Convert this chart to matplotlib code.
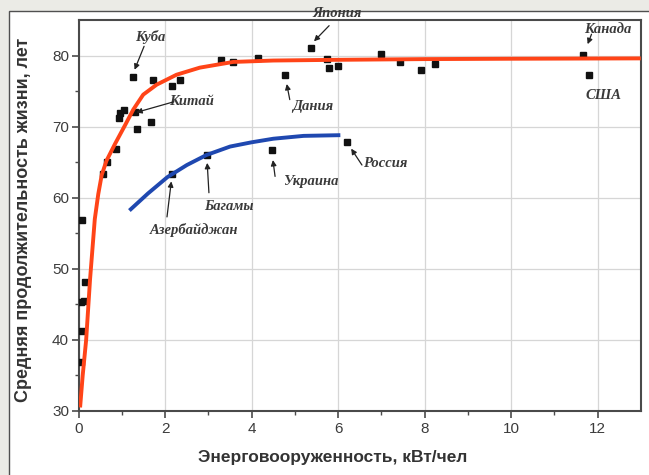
import numpy as np
import matplotlib.pyplot as plt
from matplotlib.patches import Rectangle

# scattered countries (energy per capita, life expectancy)
px = [0.05, 0.07, 0.06, 0.12, 0.14, 0.07, 0.56, 0.65, 0.86, 0.92, 0.95, 1.05,
      1.30, 1.25, 1.34, 1.68, 1.71, 2.15, 2.35, 2.16, 2.97, 3.30, 3.57, 4.15,
      4.78, 5.37, 5.74, 5.78, 6.00, 4.46, 6.20, 7.00, 7.44, 7.92, 8.25, 11.67, 11.80]
py = [36.9, 41.3, 45.3, 45.5, 48.1, 56.8, 63.4, 65.0, 66.9, 71.2, 71.9, 72.3,
      72.0, 77.0, 69.6, 70.7, 76.5, 75.7, 76.5, 63.4, 66.0, 79.4, 79.1, 79.7,
      77.2, 81.1, 79.5, 78.2, 78.5, 66.7, 67.8, 80.2, 79.1, 78.0, 78.8, 80.1, 77.3]

# red fitted curve
rx = [0.03, 0.09, 0.17, 0.26, 0.37, 0.45, 0.53, 0.64, 0.84, 1.07, 1.26, 1.49,
      1.8, 2.26, 2.8, 3.57, 4.5, 6, 8, 10, 13]
ry = [30.5, 35.0, 40.0, 48.5, 57.0, 60.5, 63.2, 65.2, 67.6, 70.2, 72.4, 74.5,
      75.9, 77.3, 78.3, 79.1, 79.3, 79.4, 79.5, 79.55, 79.6]

# blue curve (post-soviet etc.)
bx = [1.17, 1.6, 2.05, 2.5, 2.95, 3.5, 4.0, 4.5, 5.2, 6.05]
by = [58.2, 60.6, 62.9, 64.6, 66.0, 67.2, 67.8, 68.3, 68.7, 68.8]

# labels: text, text pos, arrow tail, arrow head (None = no arrow)
notes = [
    ("Куба", (1.65, 82.6), (1.51, 81.3), (1.29, 78.0)),
    ("Китай", (2.6, 73.5), (2.2, 73.5), (1.33, 72.0)),
    ("Япония", (5.97, 85.9), (5.79, 84.2), (5.44, 82.0)),
    ("Канада", (12.23, 83.7), (11.86, 83.0), (11.77, 81.6)),
    ("США", (12.14, 74.4), None, None),
    ("Дания", (5.42, 72.9), (4.88, 73.8), (4.81, 76.0)),
    ("Украина", (5.37, 62.3), (4.54, 63.0), (4.49, 65.3)),
    ("Россия", (7.08, 64.8), (6.55, 64.6), (6.30, 66.9)),
    ("Багамы", (3.47, 58.7), (3.01, 60.7), (2.97, 64.9)),
    ("Азербайджан", (2.66, 55.5), (2.04, 57.3), (2.14, 62.3)),
]

plt.rcParams['font.family'] = ['Liberation Sans', 'DejaVu Sans']

fig = plt.figure(figsize=(6.49, 4.75), dpi=100)
fig.patch.set_facecolor('#ebebe6')
fig.patches.append(Rectangle((9/649, -0.1), 1.0, (475-11)/475 + 0.1,
                             transform=fig.transFigure, facecolor='white',
                             edgecolor='#505050', lw=1.0, zorder=-5))

ax = fig.add_axes([78.8/649, 1-411/475, 562/649, 391/475])
ax.set_zorder(2)
ax.set_facecolor('white')

ax.plot(px, py, 's', color='#111111', ms=4.8, zorder=3)
ax.plot(rx, ry, '-', color='#ff4418', lw=2.8, zorder=4, solid_capstyle='butt')
ax.plot(bx, by, '-', color='#1f48b0', lw=2.8, zorder=4, solid_capstyle='butt')

for t, tp, a0, a1 in notes:
    ax.text(tp[0], tp[1], t, ha='center', va='center', fontsize=10.5,
            family='Liberation Serif', style='italic', weight='bold',
            color='#3a3a3a', clip_on=False, zorder=5)
    if a0 is not None:
        ax.annotate('', xy=a1, xytext=a0,
                    arrowprops=dict(arrowstyle='-|>', color='#222222', lw=0.9,
                                    mutation_scale=8, shrinkA=0, shrinkB=0),
                    annotation_clip=False, zorder=5)

ax.set_xlim(0, 13)
ax.set_ylim(30, 85)
ax.set_xticks([0, 2, 4, 6, 8, 10, 12])
ax.set_xticks([1, 3, 5, 7, 9, 11], minor=True)
ax.set_yticks([30, 40, 50, 60, 70, 80])
ax.set_yticks([35, 45, 55, 65, 75], minor=True)
ax.grid(True, which='major', color='#d6d6d6', lw=0.9)
ax.set_axisbelow(True)

for s in ax.spines.values():
    s.set_color('#4a4a4a')
    s.set_linewidth(1.5)
ax.tick_params(which='major', direction='out', length=5, width=1.2,
               color='#4a4a4a', labelsize=11, labelcolor='#3c3c3c', pad=3)
ax.tick_params(axis='y', which='major', pad=2)
ax.tick_params(which='minor', direction='out', length=3, width=1.0, color='#4a4a4a')

ax.set_xlabel('Энерговооруженность, кВт/чел', fontsize=12.5, weight='bold', color='#333333')
ax.set_ylabel('Средняя продолжительность жизни, лет', fontsize=13, weight='bold', color='#333333')
ax.xaxis.set_label_coords(0.452, -0.12)
ax.xaxis.label.set_va('center')
ax.yaxis.set_label_coords(-0.098, 0.488)
ax.yaxis.label.set_va('center')

fig.savefig('out.png', dpi=100, facecolor=fig.get_facecolor())
